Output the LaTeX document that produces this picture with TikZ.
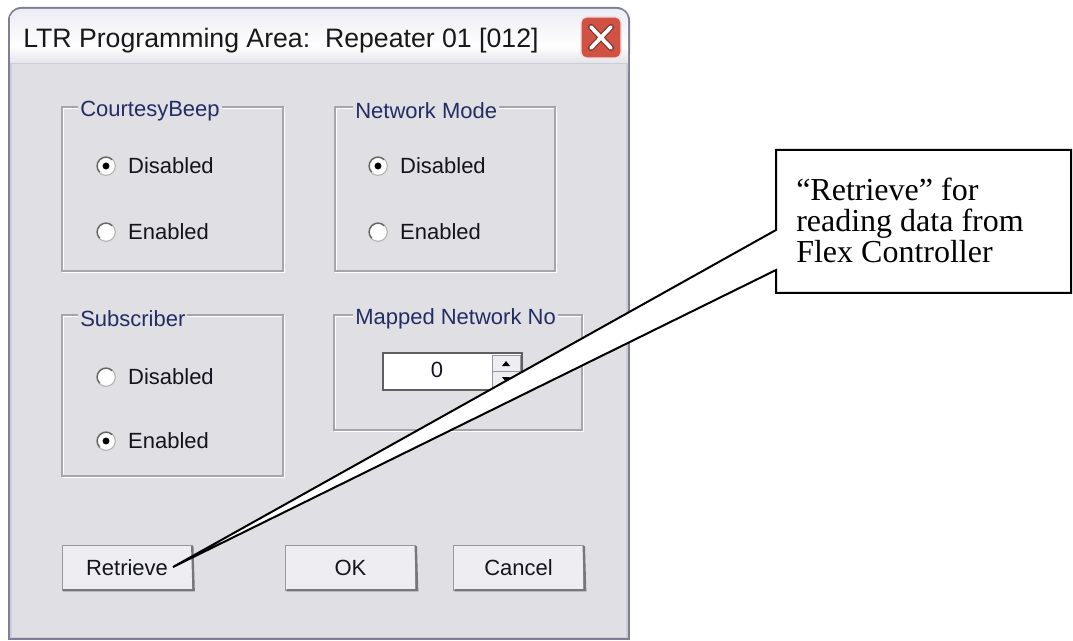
\documentclass[tikz,border=0pt]{standalone}
\usepackage{fontspec}
\setmainfont{Liberation Serif}
\setsansfont{Liberation Sans}
\usepackage{xcolor}
\usepackage{tikz}
\usetikzlibrary{positioning}

\definecolor{framedark}{RGB}{126,126,150}
\definecolor{framelight}{RGB}{204,204,218}
\definecolor{dlgbg}{RGB}{224,223,227}
\definecolor{titletop}{RGB}{236,236,244}
\definecolor{titlebot}{RGB}{196,196,210}
\definecolor{closered}{RGB}{208,82,68}
\definecolor{grpline}{RGB}{166,166,170}
\definecolor{btnfill}{RGB}{238,238,242}
\definecolor{btnedge}{RGB}{150,150,156}
\definecolor{btnshade}{RGB}{118,118,124}
\definecolor{lblcol}{RGB}{35,45,100}
\definecolor{txtcol}{RGB}{20,20,30}

\newcommand\dlgfont{\sffamily\fontsize{16.5}{19}\selectfont}

\begin{document}
\begin{tikzpicture}[x=0.75pt,y=-0.75pt,
  grp/.style={draw=grpline, line width=0.8pt},
  grplbl/.style={fill=dlgbg, inner sep=1.5pt, anchor=west, text=lblcol, font=\dlgfont},
  radio/.style={circle, draw=gray!60, fill=white, minimum size=14pt, inner sep=0pt, line width=0.8pt},
  radiotxt/.style={inner sep=0pt, text=txtcol, font=\dlgfont},
  btn/.style={draw=btnedge, fill=btnfill, minimum width=97.5pt, minimum height=33.75pt, text=txtcol, font=\dlgfont},
  callout/.style={draw=black, fill=white, line width=1.5pt, line join=miter}]
  \useasboundingbox (0,0) rectangle (1073,641);
  \def\wl{8}
  \def\wr{630}
  \def\wt{7}
  \def\wb{640}
  \def\tb{63} %bottom of title bar%

  %window frame%
  \fill[framedark, rounded corners=10pt] (\wl,\wt) rectangle (\wr,\wt+60);
  \fill[framedark] (\wl,\wt+30) rectangle (\wr,\wb);
  \shade[top color=titletop, bottom color=titlebot, middle color=white, rounded corners=8pt] (\wl+2,\wt+2) rectangle (\wr-2,\tb+20);
  \fill[framelight] (\wl+2,\tb) rectangle (\wr-2,\wb-2);
  \fill[dlgbg] (12,\tb+1) rectangle (626,637);

  \node[anchor=base west, inner sep=0pt, text=black!90, font=\sffamily\fontsize{20}{22}\selectfont] (title) at (23,48) {LTR Programming Area:\ \ Repeater 01 [012]};

  %close button%
  \draw[fill=closered, draw=white!80!closered, line width=1pt, rounded corners=4pt] (581,17) rectangle (621,58);
  \draw[line width=4.5pt, closered!60!black, line cap=round] (591,27) -- (611,48) (611,27) -- (591,48);
  \draw[line width=2.8pt, white, line cap=round] (591,27) -- (611,48) (611,27) -- (591,48);

  %group boxes%
  \draw[white, line width=0.8pt] (63,108) rectangle (284,272);
  \draw[grp] (62,107) rectangle (283,271);
  \draw[white, line width=0.8pt] (336,108) rectangle (556,272);
  \draw[grp] (335,107) rectangle (555,271);
  \draw[white, line width=0.8pt] (63,316) rectangle (284,477);
  \draw[grp] (62,315) rectangle (283,476);
  \draw[white, line width=0.8pt] (335,316) rectangle (583,431);
  \draw[grp] (334,315) rectangle (582,430);

  \node[grplbl] (cblbl) at (78,111) {CourtesyBeep};
  \node[grplbl] (nmlbl) at (353,111) {Network Mode};
  \node[grplbl] (sublbl) at (78,319) {Subscriber};
  \node[grplbl] (maplbl) at (353,319) {Mapped Network No};

  %radio buttons%
  \node[radio] (cbdis) at (106,166) {};
  \node[radio] (cbena) at (106,232) {};
  \node[radio] (nmdis) at (378,166) {};
  \node[radio] (nmena) at (378,232) {};
  \node[radio] (subdis) at (106,377) {};
  \node[radio] (subena) at (106,441) {};
  \foreach \r in {cbdis,cbena,nmdis,nmena,subdis,subena}
    \draw[line width=1pt, gray!80!black] (\r.center) ++(45:6.6pt) arc (45:225:6.6pt);
  \foreach \r in {cbdis,nmdis,subena}
    \fill[black] (\r.center) circle (2.6pt);

  \node[radiotxt, anchor=west, right=9pt of cbdis] (cbdist) {Disabled};
  \node[radiotxt, anchor=west, right=9pt of cbena] (cbenat) {Enabled};
  \node[radiotxt, anchor=west, right=9pt of nmdis] (nmdist) {Disabled};
  \node[radiotxt, anchor=west, right=9pt of nmena] (nmenat) {Enabled};
  \node[radiotxt, anchor=west, right=9pt of subdis] (subdist) {Disabled};
  \node[radiotxt, anchor=west, right=9pt of subena] (subenat) {Enabled};

  %spin box%
  \draw[fill=white, draw=gray!75!black, line width=1.2pt] (383,353) rectangle (522,390);
  \draw[fill=btnfill, draw=btnedge, line width=0.6pt] (492,355) rectangle (520,371);
  \draw[fill=btnfill, draw=btnedge, line width=0.6pt] (492,371) rectangle (520,388);
  \fill[black] (502,366) -- (510,366) -- (506,361) -- cycle;
  \fill[black] (502,377) -- (510,377) -- (506,382) -- cycle;
  \node[radiotxt] (netno) at (437,370) {0};

  %buttons%
  \node[btn] (retrieve) at (127,567.5) {Retrieve};
  \node[btn] (ok) at (350.5,567.5) {OK};
  \node[btn] (cancel) at (518.5,567.5) {Cancel};
  \foreach \b in {retrieve,ok,cancel}
    \draw[btnshade, line width=1.8pt] ([xshift=1pt]\b.south west) -- ([xshift=1pt]\b.south east) -- ([yshift=-1pt]\b.north east);

  %callout%
  \coordinate (tip) at (173,567);
  \draw[callout] (776,150) -- (1071,150) -- (1071,293) -- (776,293) -- (776,270) -- (tip) -- (776,230) -- cycle;
  \node[anchor=base west, align=left, inner sep=0pt, font=\rmfamily\fontsize{24}{23.6}\selectfont] (note) at (796,263) {“Retrieve” for\\reading data from\\Flex Controller};
\end{tikzpicture}
\end{document}
